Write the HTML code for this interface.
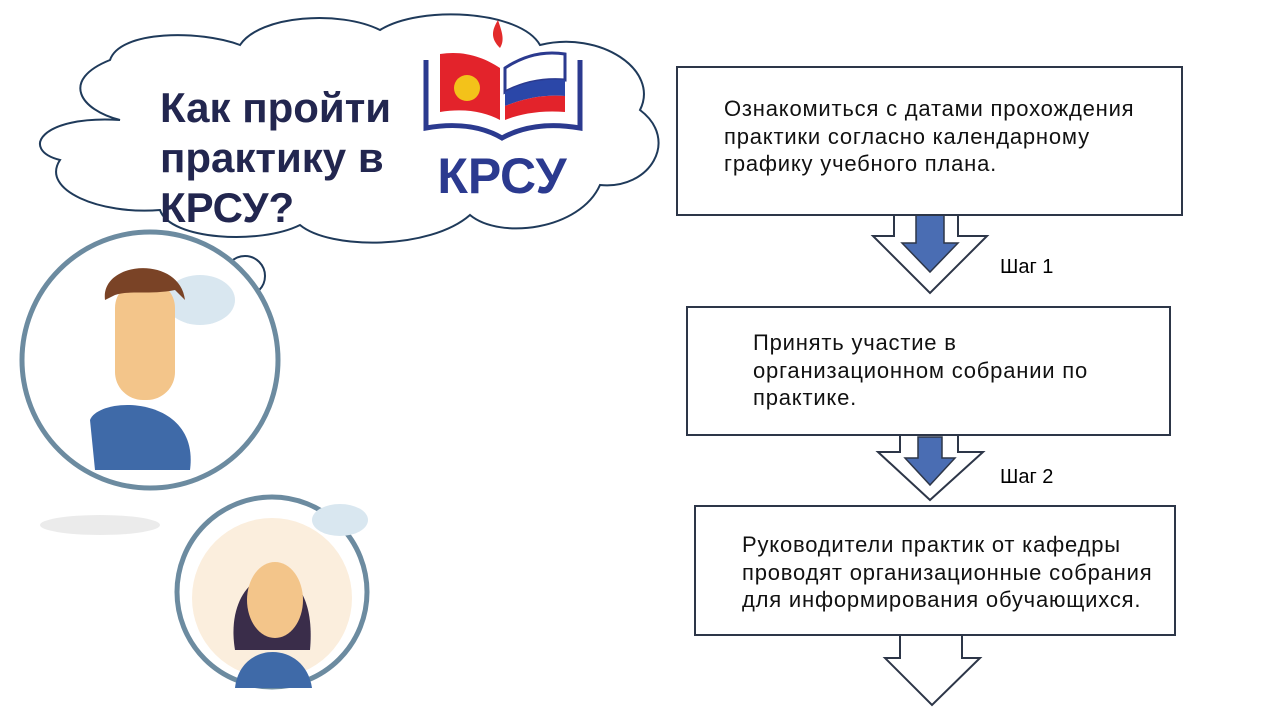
<!DOCTYPE html>
<html><head><meta charset="utf-8"><style>
body{margin:0;width:1280px;height:720px;background:#fff;overflow:hidden;position:relative;font-family:"Liberation Sans",sans-serif}
.box{position:absolute;border:2px solid #2d3648;background:#fff;box-sizing:border-box;font-size:22px;letter-spacing:0.8px;line-height:27.5px;color:#111;white-space:nowrap}
</style></head><body>
<svg width="1280" height="720" style="position:absolute;left:0;top:0">
<g fill="#fff" stroke="#1f3a5a" stroke-width="2">
<path d="M120,120 C80,110 60,80 110,60 C120,30 200,30 240,45 C260,15 340,10 380,30 C420,5 520,10 540,45 C600,30 660,70 640,110 C680,140 650,190 600,185 C580,230 500,240 470,215 C430,250 330,250 300,225 C260,245 170,240 160,210 C100,215 40,190 60,160 C20,150 40,115 120,120 Z"/>
<circle cx="245" cy="276" r="20"/><circle cx="230" cy="293" r="10"/><circle cx="224" cy="303" r="6"/>
</g>
<path d="M498,20 C492,30 490,38 500,48 C505,40 502,32 498,20Z" fill="#e32b2b"/>
<path d="M426,60 L426,128 C460,122 485,128 502,138 C520,128 545,122 580,128 L580,60" fill="none" stroke="#2b3a8f" stroke-width="5"/>
<path d="M440,54 C465,50 485,58 500,68 L500,120 C485,112 465,108 440,112Z" fill="#e3232b"/>
<path d="M505,68 C520,58 540,50 565,54 L565,80 C540,78 520,84 505,92Z" fill="#fff" stroke="#2b3a8f" stroke-width="3"/>
<path d="M505,92 C520,84 540,78 565,80 L565,96 C540,94 520,100 505,106Z" fill="#2b47a8"/>
<path d="M505,106 C520,100 540,94 565,96 L565,112 C540,110 520,114 505,120Z" fill="#e3232b"/>
<circle cx="467" cy="88" r="13" fill="#f3c21a"/>
<text x="502" y="193" text-anchor="middle" font-family="Liberation Sans" font-weight="bold" font-size="50" fill="#2b3a8f">КРСУ</text>
<circle cx="150" cy="360" r="128" fill="#fff" stroke="#6c8ba0" stroke-width="5"/>
<ellipse cx="200" cy="300" rx="35" ry="25" fill="#d9e7f0"/>
<path d="M95,470 L90,420 C100,395 200,395 190,470Z" fill="#3f6aa8"/>
<rect x="115" y="280" width="60" height="120" rx="28" fill="#f3c58a"/>
<path d="M105,300 C100,260 180,255 185,300 L175,290 C150,295 130,290 115,295Z" fill="#7a4326"/>
<ellipse cx="100" cy="525" rx="60" ry="10" fill="#ddd" opacity="0.6"/>
<circle cx="272" cy="592" r="95" fill="#fff" stroke="#6c8ba0" stroke-width="5"/>
<circle cx="272" cy="598" r="80" fill="#fbeedd"/>
<ellipse cx="340" cy="520" rx="28" ry="16" fill="#d9e7f0"/>
<path d="M235,688 C240,640 305,640 312,688Z" fill="#3f6aa8"/>
<path d="M235,650 C220,560 320,540 310,650Z" fill="#3a2d4a"/>
<ellipse cx="275" cy="600" rx="28" ry="38" fill="#f3c58a"/>
<g stroke="#2d3648" stroke-width="2" fill="#fff" stroke-linejoin="miter">
<path d="M894,214 L894,236 L873,236 L930,293 L987,236 L958,236 L958,214"/>
<path d="M900,435 L900,452 L878,452 L930,500 L983,452 L958,452 L958,435"/>
<path d="M900,635 L900,658 L885,658 L932,705 L980,658 L962,658 L962,635"/>
</g>
<path d="M916,214 L916,243 L902,243 L930,272 L958,243 L944,243 L944,214Z" fill="#4a6db3" stroke="#2d3648" stroke-width="1.5"/>
<path d="M918,437 L918,458 L905,458 L930,485 L955,458 L942,458 L942,437Z" fill="#4a6db3" stroke="#2d3648" stroke-width="1.5"/>
</svg>
<div style="position:absolute;left:160px;top:83px;font-size:42px;line-height:50px;font-weight:bold;color:#22264f">Как пройти<br>практику в<br>КРСУ?</div>
<div class="box" style="left:676px;top:66px;width:507px;height:150px;padding:27px 0 0 46px">Ознакомиться с датами прохождения<br>практики согласно календарному<br>графику учебного плана.</div>
<div class="box" style="left:686px;top:306px;width:485px;height:130px;padding:21px 0 0 65px">Принять участие в<br>организационном собрании по<br>практике.</div>
<div class="box" style="left:694px;top:505px;width:482px;height:131px;padding:24px 0 0 46px">Руководители практик от кафедры<br>проводят организационные собрания<br>для информирования обучающихся.</div>
<div style="position:absolute;left:1000px;top:256px;font-size:20px">Шаг 1</div>
<div style="position:absolute;left:1000px;top:466px;font-size:20px">Шаг 2</div>
</body></html>
